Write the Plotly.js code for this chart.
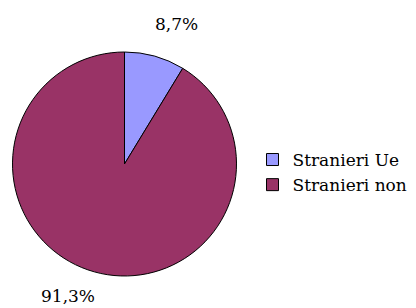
<!DOCTYPE html>
<html>
<head>
<meta charset="utf-8">
<script src="https://cdn.plot.ly/plotly-3.0.1.min.js"></script>
<style>html,body{margin:0;padding:0;background:#fff;}#chart{width:416px;height:308px;}</style>
</head>
<body>
<div id="chart"></div>
<script>
const labels = ["Stranieri Ue", "Stranieri non"];
const values = [8.7, 91.3];
const colors = ["#9999FF", "#993366"];

const fmt = v => v.toFixed(1).replace('.', ',') + '%';
const FONT = "'DejaVu Serif', 'Liberation Serif', serif";

const trace = {
  type: 'pie',
  labels: labels,
  values: values,
  sort: false,
  direction: 'clockwise',
  rotation: 0,
  marker: {colors: colors, line: {color: '#000000', width: 1}},
  textinfo: 'none',
  hoverinfo: 'label+percent',
  domain: {x: [12/416, 237/416], y: [32/308, 256/308]},
  automargin: false
};

const layout = {
  width: 416, height: 308,
  margin: {l: 0, r: 0, t: 0, b: 0},
  paper_bgcolor: '#ffffff',
  font: {family: FONT, size: 17, color: '#000000'},
  showlegend: true,
  legend: {x: 0.607, y: 0.44, xanchor: 'left', yanchor: 'middle', font: {family: FONT, size: 17, color: '#000'}},
  annotations: [
    {text: fmt(values[0]), x: 176/416, y: 1 - 24/308, xref: 'paper', yref: 'paper', xanchor: 'center', yanchor: 'middle', showarrow: false, font: {family: FONT, size: 17}},
    {text: fmt(values[1]), x: 68/416, y: 1 - 296/308, xref: 'paper', yref: 'paper', xanchor: 'center', yanchor: 'middle', showarrow: false, font: {family: FONT, size: 17}}
  ]
};

Plotly.newPlot('chart', [trace], layout, {displayModeBar: false, staticPlot: true});
</script>
</body>
</html>
